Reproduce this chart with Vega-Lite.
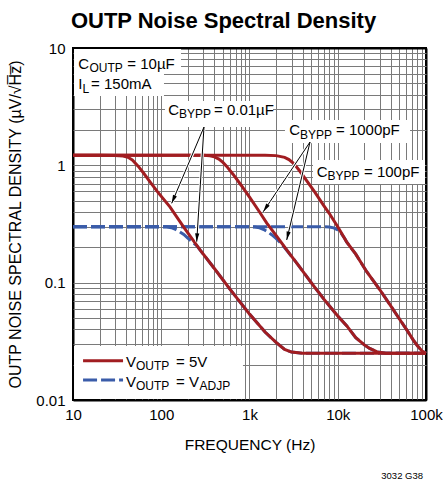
{
  "$schema": "https://vega.github.io/schema/vega-lite/v6.json",
  "autosize": {"type": "none"},
  "padding": {"left": 73, "top": 48, "right": 17, "bottom": 83},
  "width": 353,
  "height": 352,
  "background": "white",
  "config": {
    "view": {"stroke": "#000", "strokeWidth": 2},
    "axis": {"labelColor": "#000", "titleColor": "#000"}
  },
  "title": {
    "text": "OUTP Noise Spectral Density",
    "font": "Liberation Sans",
    "fontSize": 22,
    "fontWeight": "bold",
    "color": "#000",
    "anchor": "middle",
    "dx": -26,
    "baseline": "alphabetic",
    "offset": -9
  },
  "datasets": {
    "curves": [
      {"s":"r","c":"a","x":10,"y":1.22},{"s":"r","c":"a","x":20,"y":1.22},{"s":"r","c":"a","x":30,"y":1.215},{"s":"r","c":"a","x":37,"y":1.2},{"s":"r","c":"a","x":42,"y":1.17},{"s":"r","c":"a","x":47,"y":1.11},{"s":"r","c":"a","x":55,"y":0.98},{"s":"r","c":"a","x":63,"y":0.86},{"s":"r","c":"a","x":75,"y":0.72},{"s":"r","c":"a","x":90,"y":0.6},{"s":"r","c":"a","x":126,"y":0.44},{"s":"r","c":"a","x":178,"y":0.3},{"s":"r","c":"a","x":275,"y":0.19},{"s":"r","c":"a","x":400,"y":0.132},{"s":"r","c":"a","x":600,"y":0.088},{"s":"r","c":"a","x":1000,"y":0.054},{"s":"r","c":"a","x":1500,"y":0.038},{"s":"r","c":"a","x":2000,"y":0.031},{"s":"r","c":"a","x":2500,"y":0.027},{"s":"r","c":"a","x":3000,"y":0.0256},{"s":"r","c":"a","x":4000,"y":0.025},{"s":"r","c":"a","x":100000,"y":0.025},
      {"s":"b","c":"a","x":10,"y":0.3},{"s":"b","c":"a","x":100,"y":0.3},{"s":"b","c":"a","x":115,"y":0.299},{"s":"b","c":"a","x":130,"y":0.294},{"s":"b","c":"a","x":145,"y":0.285},{"s":"b","c":"a","x":160,"y":0.273},{"s":"b","c":"a","x":180,"y":0.258},{"s":"b","c":"a","x":200,"y":0.24},{"s":"b","c":"a","x":225,"y":0.222},{"s":"b","c":"a","x":252,"y":0.207},{"s":"b","c":"a","x":275,"y":0.19},{"s":"b","c":"a","x":400,"y":0.132},{"s":"b","c":"a","x":600,"y":0.088},{"s":"b","c":"a","x":1000,"y":0.054},{"s":"b","c":"a","x":1500,"y":0.038},{"s":"b","c":"a","x":2000,"y":0.031},{"s":"b","c":"a","x":2500,"y":0.027},{"s":"b","c":"a","x":3000,"y":0.0256},{"s":"b","c":"a","x":4000,"y":0.025},{"s":"b","c":"a","x":100000,"y":0.025},
      {"s":"r","c":"b","x":10,"y":1.22},{"s":"r","c":"b","x":300,"y":1.22},{"s":"r","c":"b","x":356,"y":1.205},{"s":"r","c":"b","x":400,"y":1.18},{"s":"r","c":"b","x":450,"y":1.13},{"s":"r","c":"b","x":500,"y":1.06},{"s":"r","c":"b","x":552,"y":0.98},{"s":"r","c":"b","x":650,"y":0.84},{"s":"r","c":"b","x":800,"y":0.68},{"s":"r","c":"b","x":1010,"y":0.53},{"s":"r","c":"b","x":1300,"y":0.4},{"s":"r","c":"b","x":1570,"y":0.322},{"s":"r","c":"b","x":2000,"y":0.253},{"s":"r","c":"b","x":2640,"y":0.19},{"s":"r","c":"b","x":3500,"y":0.144},{"s":"r","c":"b","x":5280,"y":0.095},{"s":"r","c":"b","x":7000,"y":0.072},{"s":"r","c":"b","x":10000,"y":0.052},{"s":"r","c":"b","x":12600,"y":0.043},{"s":"r","c":"b","x":16000,"y":0.034},{"s":"r","c":"b","x":20000,"y":0.0295},{"s":"r","c":"b","x":23000,"y":0.0275},{"s":"r","c":"b","x":28000,"y":0.0257},{"s":"r","c":"b","x":35000,"y":0.025},{"s":"r","c":"b","x":100000,"y":0.025},
      {"s":"b","c":"b","x":10,"y":0.3},{"s":"b","c":"b","x":1000,"y":0.3},{"s":"b","c":"b","x":1150,"y":0.298},{"s":"b","c":"b","x":1300,"y":0.293},{"s":"b","c":"b","x":1450,"y":0.284},{"s":"b","c":"b","x":1600,"y":0.272},{"s":"b","c":"b","x":1800,"y":0.255},{"s":"b","c":"b","x":2000,"y":0.238},{"s":"b","c":"b","x":2300,"y":0.215},{"s":"b","c":"b","x":2640,"y":0.189},{"s":"b","c":"b","x":3500,"y":0.144},{"s":"b","c":"b","x":5280,"y":0.095},{"s":"b","c":"b","x":7000,"y":0.072},{"s":"b","c":"b","x":10000,"y":0.052},{"s":"b","c":"b","x":12600,"y":0.043},{"s":"b","c":"b","x":16000,"y":0.034},{"s":"b","c":"b","x":20000,"y":0.0295},{"s":"b","c":"b","x":23000,"y":0.0275},{"s":"b","c":"b","x":28000,"y":0.0257},{"s":"b","c":"b","x":35000,"y":0.025},{"s":"b","c":"b","x":100000,"y":0.025},
      {"s":"r","c":"c","x":10,"y":1.22},{"s":"r","c":"c","x":1500,"y":1.22},{"s":"r","c":"c","x":2000,"y":1.21},{"s":"r","c":"c","x":2500,"y":1.17},{"s":"r","c":"c","x":2800,"y":1.12},{"s":"r","c":"c","x":3200,"y":1.03},{"s":"r","c":"c","x":3730,"y":0.89},{"s":"r","c":"c","x":4500,"y":0.73},{"s":"r","c":"c","x":5500,"y":0.59},{"s":"r","c":"c","x":6850,"y":0.46},{"s":"r","c":"c","x":8000,"y":0.39},{"s":"r","c":"c","x":10000,"y":0.3},{"s":"r","c":"c","x":12600,"y":0.223},{"s":"r","c":"c","x":16000,"y":0.175},{"s":"r","c":"c","x":21300,"y":0.124},{"s":"r","c":"c","x":30000,"y":0.087},{"s":"r","c":"c","x":39000,"y":0.065},{"s":"r","c":"c","x":50000,"y":0.049},{"s":"r","c":"c","x":60000,"y":0.04},{"s":"r","c":"c","x":71800,"y":0.0324},{"s":"r","c":"c","x":80000,"y":0.029},{"s":"r","c":"c","x":90000,"y":0.0262},{"s":"r","c":"c","x":100000,"y":0.025},
      {"s":"b","c":"c","x":10,"y":0.3},{"s":"b","c":"c","x":7000,"y":0.3},{"s":"b","c":"c","x":8000,"y":0.298},{"s":"b","c":"c","x":9000,"y":0.293},{"s":"b","c":"c","x":10000,"y":0.282},{"s":"b","c":"c","x":11000,"y":0.262},{"s":"b","c":"c","x":12000,"y":0.238},{"s":"b","c":"c","x":12600,"y":0.222},{"s":"b","c":"c","x":16000,"y":0.175},{"s":"b","c":"c","x":21300,"y":0.124},{"s":"b","c":"c","x":30000,"y":0.087},{"s":"b","c":"c","x":39000,"y":0.065},{"s":"b","c":"c","x":50000,"y":0.049},{"s":"b","c":"c","x":60000,"y":0.04},{"s":"b","c":"c","x":71800,"y":0.0324},{"s":"b","c":"c","x":80000,"y":0.029},{"s":"b","c":"c","x":90000,"y":0.0262},{"s":"b","c":"c","x":100000,"y":0.025}
    ],
    "boxes": [
      {"x":10.27,"x2":167.5,"y":9.8,"y2":6.12},
      {"x":10.27,"x2":107.4,"y":6.12,"y2":3.9},
      {"x":110.3,"x2":1845,"y":3.53,"y2":2.12},
      {"x":2523,"x2":65900,"y":2.434,"y2":1.55},
      {"x":5244,"x2":97500,"y":1.11,"y2":0.693},
      {"x":10.27,"x2":843,"y":0.0288,"y2":0.0102}
    ],
    "arrows": [
      {"id":"Ba","x":305,"y":2.12,"x2":131.3,"y2":0.4746},
      {"id":"Bb","x":305,"y":2.12,"x2":252.2,"y2":0.2234},
      {"id":"Ca","x":4850,"y":1.58,"x2":1433,"y2":0.4027},
      {"id":"Cb","x":4850,"y":1.58,"x2":2640,"y2":0.231}
    ],
    "heads": [
      {"id":"Ba","x":131.3,"y":0.4746},
      {"id":"Bb","x":252.2,"y":0.2234},
      {"id":"Ca","x":1433,"y":0.4027},
      {"id":"Cb","x":2640,"y":0.231}
    ],
    "legend": [
      {"s":"r","x":13.0,"x2":36.9,"y":0.0216},
      {"s":"b","x":13.0,"x2":36.9,"y":0.0148}
    ],
    "labels": [
      {"k":"m","x":11.48,"y":6.62,"t":"C"},
      {"k":"s","x":15.38,"y":6.21,"t":"OUTP"},
      {"k":"m","x":41.2,"y":6.62,"t":"= 10µF"},
      {"k":"m","x":11.48,"y":4.5,"t":"I"},
      {"k":"s","x":12.81,"y":4.13,"t":"L"},
      {"k":"m","x":16.0,"y":4.5,"t":"= 150mA"},
      {"k":"m","x":120.2,"y":2.686,"t":"C"},
      {"k":"s","x":159.3,"y":2.507,"t":"BYPP"},
      {"k":"m","x":396,"y":2.686,"t":"= 0.01µF"},
      {"k":"m","x":2825,"y":1.814,"t":"C"},
      {"k":"s","x":3744,"y":1.693,"t":"BYPP"},
      {"k":"m","x":9550,"y":1.814,"t":"= 1000pF"},
      {"k":"m","x":5775,"y":0.8,"t":"C"},
      {"k":"s","x":7655,"y":0.75,"t":"BYPP"},
      {"k":"m","x":19840,"y":0.8,"t":"= 100pF"},
      {"k":"m","x":39.9,"y":0.01923,"t":"V"},
      {"k":"s","x":51.8,"y":0.01803,"t":"OUTP"},
      {"k":"m","x":146.9,"y":0.01923,"t":"= 5V"},
      {"k":"m","x":39.9,"y":0.01297,"t":"V"},
      {"k":"s","x":51.8,"y":0.01216,"t":"OUTP"},
      {"k":"m","x":146.9,"y":0.01297,"t":"= V"},
      {"k":"s","x":271,"y":0.01216,"t":"ADJP"}
    ],
    "note": [
      {"x":92500,"y":0.00212,"t":"3032 G38"}
    ]
  },
  "encoding": {
    "x": {
      "field": "x", "type": "quantitative",
      "scale": {"type": "log", "domain": [10, 100000], "nice": false},
      "axis": {
        "title": "FREQUENCY (Hz)",
        "values": [10,20,30,40,50,60,70,80,90,100,200,300,400,500,600,700,800,900,1000,2000,3000,4000,5000,6000,7000,8000,9000,10000,20000,30000,40000,50000,60000,70000,80000,90000,100000],
        "labelExpr": "datum.value == 10 ? '10' : datum.value == 100 ? '100' : datum.value == 1000 ? '1k' : datum.value == 10000 ? '10k' : datum.value == 100000 ? '100k' : ''",
        "labelOverlap": false,
        "labelFlush": false,
        "labelFont": "Liberation Sans",
        "labelFontSize": 15,
        "labelPadding": 7,
        "ticks": false,
        "domain": false,
        "grid": true,
        "gridColor": {"condition": {"test": "datum.value == 10 || datum.value == 100000", "value": "#000"}, "value": "#7a7a7a"},
        "gridWidth": {"condition": {"test": "datum.value == 10 || datum.value == 100000", "value": 2}, "value": 1},
        "gridOpacity": 1,
        "titleFont": "Liberation Sans",
        "titleFontSize": 15.5,
        "titleFontWeight": "normal",
        "titlePadding": 15
      }
    },
    "y": {
      "field": "y", "type": "quantitative",
      "scale": {"type": "log", "domain": [0.01, 10], "nice": false},
      "axis": {
        "title": "OUTP NOISE SPECTRAL DENSITY (µV/√H̅z̅)",
        "values": [0.01,0.02,0.03,0.04,0.05,0.06,0.07,0.08,0.09,0.1,0.2,0.3,0.4,0.5,0.6,0.7,0.8,0.9,1,2,3,4,5,6,7,8,9,10],
        "labelExpr": "datum.value == 0.01 ? '0.01' : datum.value == 0.1 ? '0.1' : datum.value == 1 ? '1' : datum.value == 10 ? '10' : ''",
        "labelOverlap": false,
        "labelFlush": false,
        "labelFont": "Liberation Sans",
        "labelFontSize": 15,
        "labelPadding": 8,
        "ticks": false,
        "domain": false,
        "grid": true,
        "gridColor": {"condition": {"test": "datum.value == 0.01 || datum.value == 10", "value": "#000"}, "value": "#7a7a7a"},
        "gridWidth": {"condition": {"test": "datum.value == 0.01 || datum.value == 10", "value": 2}, "value": 1},
        "gridOpacity": 1,
        "titleFont": "Liberation Sans",
        "titleFontSize": 16,
        "titleFontWeight": "normal",
        "titlePadding": 12
      }
    }
  },
  "layer": [
    {
      "data": {"name": "boxes"},
      "mark": {"type": "rect", "fill": "white", "stroke": null},
      "encoding": {"x2": {"field": "x2"}, "y2": {"field": "y2"}}
    },
    {
      "data": {"name": "curves"},
      "transform": [{"filter": "datum.s == 'b'"}],
      "mark": {"type": "line", "color": "#3a5ca9", "strokeWidth": 3, "strokeDash": [14, 4]},
      "encoding": {"detail": {"field": "c"}}
    },
    {
      "data": {"name": "curves"},
      "transform": [{"filter": "datum.s == 'r'"}],
      "mark": {"type": "line", "color": "#a11d21", "strokeWidth": 3},
      "encoding": {"detail": {"field": "c"}}
    },
    {
      "data": {"name": "arrows"},
      "mark": {"type": "rule", "color": "white", "strokeWidth": 3},
      "encoding": {"x2": {"field": "x2"}, "y2": {"field": "y2"}}
    },
    {
      "data": {"name": "arrows"},
      "mark": {"type": "rule", "color": "#000", "strokeWidth": 1},
      "encoding": {"x2": {"field": "x2"}, "y2": {"field": "y2"}}
    },
    {
      "data": {"name": "heads"},
      "transform": [{"filter": "datum.id == 'Ba'"}],
      "mark": {"type": "point", "shape": "M0,0L-0.6,-2.4L0.6,-2.4Z", "size": 49, "filled": true, "color": "#000", "opacity": 1, "angle": 22.9},
      "encoding": {}
    },
    {
      "data": {"name": "heads"},
      "transform": [{"filter": "datum.id == 'Bb'"}],
      "mark": {"type": "point", "shape": "M0,0L-0.6,-2.4L0.6,-2.4Z", "size": 49, "filled": true, "color": "#000", "opacity": 1, "angle": 3.6},
      "encoding": {}
    },
    {
      "data": {"name": "heads"},
      "transform": [{"filter": "datum.id == 'Ca'"}],
      "mark": {"type": "point", "shape": "M0,0L-0.6,-2.4L0.6,-2.4Z", "size": 49, "filled": true, "color": "#000", "opacity": 1, "angle": 33.8},
      "encoding": {}
    },
    {
      "data": {"name": "heads"},
      "transform": [{"filter": "datum.id == 'Cb'"}],
      "mark": {"type": "point", "shape": "M0,0L-0.6,-2.4L0.6,-2.4Z", "size": 49, "filled": true, "color": "#000", "opacity": 1, "angle": 13.4},
      "encoding": {}
    },
    {
      "data": {"name": "legend"},
      "transform": [{"filter": "datum.s == 'r'"}],
      "mark": {"type": "rule", "color": "#a11d21", "strokeWidth": 3},
      "encoding": {"x2": {"field": "x2"}}
    },
    {
      "data": {"name": "legend"},
      "transform": [{"filter": "datum.s == 'b'"}],
      "mark": {"type": "rule", "color": "#3a5ca9", "strokeWidth": 3, "strokeDash": [14, 4]},
      "encoding": {"x2": {"field": "x2"}}
    },
    {
      "data": {"name": "labels"},
      "transform": [{"filter": "datum.k == 'm'"}],
      "mark": {"type": "text", "align": "left", "baseline": "alphabetic", "font": "Liberation Sans", "fontSize": 15, "color": "#000"},
      "encoding": {"text": {"field": "t"}}
    },
    {
      "data": {"name": "labels"},
      "transform": [{"filter": "datum.k == 's'"}],
      "mark": {"type": "text", "align": "left", "baseline": "alphabetic", "font": "Liberation Sans", "fontSize": 12, "color": "#000"},
      "encoding": {"text": {"field": "t"}}
    },
    {
      "data": {"name": "note"},
      "mark": {"type": "text", "align": "right", "baseline": "alphabetic", "font": "Liberation Sans", "fontSize": 9.5, "color": "#000"},
      "encoding": {"text": {"field": "t"}}
    }
  ]
}
